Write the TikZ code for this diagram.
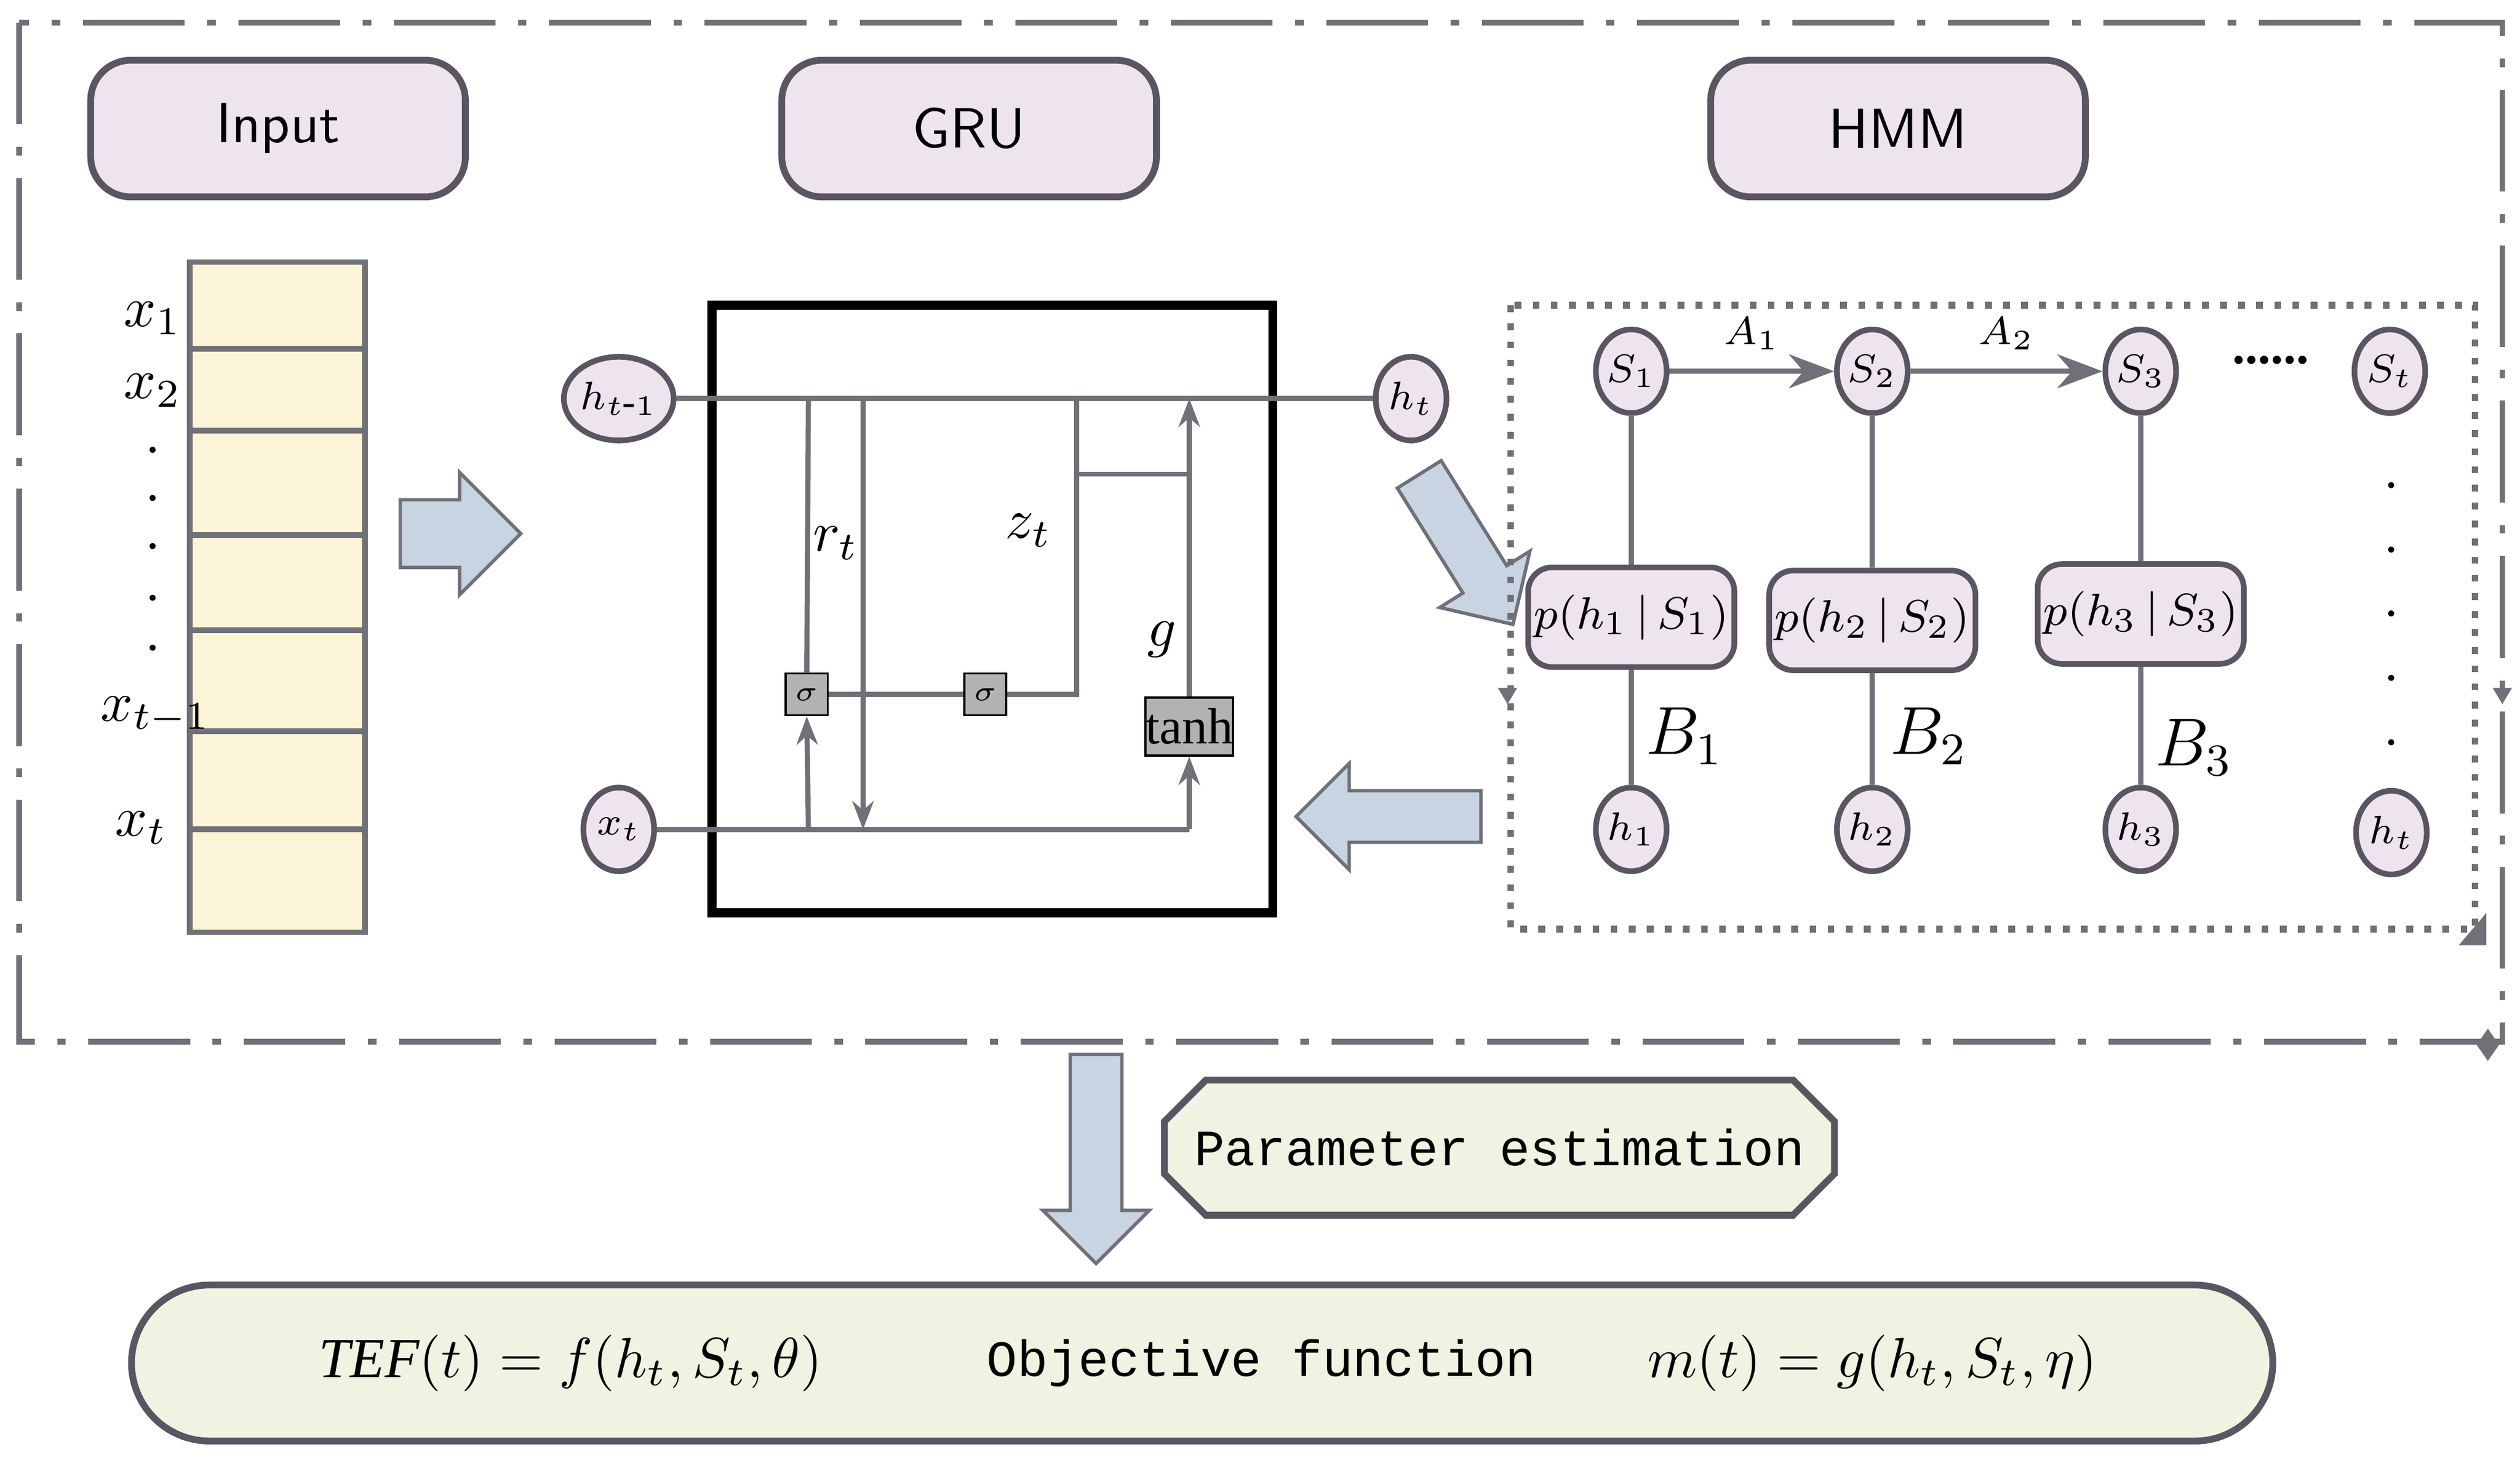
\documentclass[tikz,border=0pt]{standalone}
\usepackage{fontspec}
\setmainfont{Liberation Serif}
\newfontfamily\mono{Liberation Mono}
\usetikzlibrary{shapes.arrows,shapes.geometric,shapes.misc,arrows.meta}
\definecolor{lav}{HTML}{EDE4EE}
\definecolor{lavb}{HTML}{5A5560}
\definecolor{yel}{HTML}{FCF4D6}
\definecolor{grn}{HTML}{EEF3E2}
\definecolor{arr}{HTML}{C9D4E2}
\definecolor{ln}{HTML}{707078}
\tikzset{
 hdr/.style={rounded corners=0.25cm,draw=lavb,line width=1.2pt,fill=lav,minimum width=2.33cm,minimum height=0.85cm,font=\sffamily\normalsize},
 circ/.style={ellipse,draw=lavb,line width=1pt,fill=lav,minimum width=0.44cm,minimum height=0.52cm,inner sep=0pt,font=\scriptsize},
 pbox/.style={rounded corners=0.15cm,draw=lavb,line width=1pt,fill=lav,minimum width=1.18cm,minimum height=0.62cm,inner sep=1pt,font=\footnotesize},
 fat/.style={single arrow,draw=ln,fill=arr,line width=0.6pt,single arrow head extend=0.17cm,minimum height=#1,inner xsep=0pt,inner ysep=0.2cm},
 wire/.style={draw=ln,line width=0.9pt},
 sig/.style={draw=black,fill=gray!60,minimum size=0.26cm,inner sep=0pt,font=\tiny\itshape},
}
\begin{document}
\begin{tikzpicture}[x=0.01cm,y=-0.01cm]
\useasboundingbox (0,0) rectangle (1568,910);
\draw[ln,line width=1pt,dash pattern=on 18pt off 4pt on 1.5pt off 4pt] (12,14) rectangle (1557,648);
\node[hdr] (inp) at (173,80) {Input};
\node[hdr] (gru) at (603,80) {GRU};
\node[hdr] (hmm) at (1181,80) {HMM};
% input column
\draw[draw=ln,fill=yel,line width=1pt] (118,163) rectangle (227,580);
\foreach \y in {217,268,333,392,455,516} \draw[ln,line width=1pt] (118,\y)--(227,\y);
\node (x1) at (95,198) {$x_1$};
\node (x2) at (95,243) {$x_2$};
\foreach \y in {280,310,340,372,403} \node[font=\small] at (95,\y) {.};
\node (xtm) at (97,445) {$x_{t-1}$};
\node (xt0) at (88,515) {$x_t$};
\node[fat=0.75cm] (a1) at (276,332) {};
% GRU
\draw[black,line width=1.6pt] (443,190) rectangle (792,568);
\node[circ] (hm) at (385,248) {$h_{t\mbox{-}1}$};
\node[circ] (ht) at (878,248) {$h_t$};
\node[circ] (xt) at (385,516) {$x_t$};
\node[sig] (s1) at (502,432) {$\sigma$};
\node[sig] (s2) at (613,432) {$\sigma$};
\node[draw=black,fill=gray!60,minimum width=0.48cm,minimum height=0.36cm,inner sep=0pt,font=\small] (th) at (740,452) {tanh};
\coordinate (c1) at (503,248); \coordinate (c2) at (537,248); \coordinate (c3) at (670,248);
\coordinate (c4) at (740,248); \coordinate (c5) at (503,516); \coordinate (c6) at (537,516);
\coordinate (c7) at (740,516); \coordinate (c8) at (670,432); \coordinate (c9) at (670,295);\coordinate (c10) at (740,295);
\draw[wire] (hm)--(ht);
\draw[wire] (xt)--(c7);
\draw[wire] (c1)--(s1.north);
\draw[wire,-{Stealth[length=5pt]}] (c5)--(s1.south);
\draw[wire,-{Stealth[length=5pt]}] (c2)--(c6);
\draw[wire] (s1)--(s2)--(c8)--(c3);
\draw[wire] (c9)--(c10);
\draw[wire,-{Stealth[length=5pt]}] (th.north)--(c4);
\draw[wire,-{Stealth[length=5pt]}] (c7)--(th.south);
\node (rt) at (520,338) {$r_t$};
\node (zt) at (640,330) {$z_t$};
\node (g) at (723,398) {$g$};
\node[fat=1.1cm,rotate=-58,inner ysep=0.15cm] (a2) at (908,335) {};
\node[fat=1.15cm,rotate=180,inner ysep=0.15cm] (a3) at (872,508) {};
% HMM
\draw[ln,line width=1.2pt,dotted] (940,190) rectangle (1540,578);
\fill[ln] (932,428)--(944,428)--(938,438)--cycle;
\fill[ln] (1551,428)--(1563,428)--(1557,438)--cycle;
\fill[ln] (1547,568)--(1547,588)--(1530,588)--cycle;
\fill[ln] (1548,640)--(1555,650)--(1548,660)--(1541,650)--cycle;
\foreach \i/\x/\py in {1/1015/384,2/1165/386,3/1332/382}{
 \node[circ] (S\i) at (\x,231) {$S_\i$};
 \node[pbox] (p\i) at (\x,\py) {$p(h_\i\,|\,S_\i)$};
 \node[circ] (h\i) at (\x,516) {$h_\i$};
 \draw[wire] (S\i)--(p\i); \draw[wire] (p\i)--(h\i);
}
\node[circ] (St) at (1487,231) {$S_t$};
\node[circ] (hT) at (1488,518) {$h_t$};
\node[font=\bfseries\small] (dd) at (1413,224) {......};
\foreach \y in {302,342,382,422,462} \node[font=\small] at (1488,\y) {.};
\draw[wire,-{Stealth[length=8pt]}] (S1)--(S2) node[midway,above,font=\scriptsize] {$A_1$};
\draw[wire,-{Stealth[length=8pt]}] (S2)--(S3) node[midway,above,font=\scriptsize] {$A_2$};
\node[font=\large] (B1) at (1048,458) {$B_1$};
\node[font=\large] (B2) at (1200,458) {$B_2$};
\node[font=\large] (B3) at (1365,465) {$B_3$};
% bottom
\node[fat=1.3cm,rotate=-90,inner ysep=0.15cm] (a4) at (682,713) {};
\node[chamfered rectangle,chamfered rectangle xsep=0.15cm,draw=lavb,line width=1.2pt,fill=grn,minimum width=3.43cm,minimum height=0.84cm,inner sep=1pt,font=\mono\small] (pe) at (933,714) {Parameter estimation};
\node[rounded rectangle,draw=lavb,line width=1.2pt,fill=grn,minimum width=13.55cm,minimum height=0.97cm] (obj) at (748,848) {};
\node[font=\mono\small] (of) at (785,848) {Objective function};
\node (tef) at (355,848) {$\mathit{TEF}(t)=f(h_t,S_t,\theta)$};
\node (mt) at (1165,848) {$m(t)=g(h_t,S_t,\eta)$};
\end{tikzpicture}
\end{document}
